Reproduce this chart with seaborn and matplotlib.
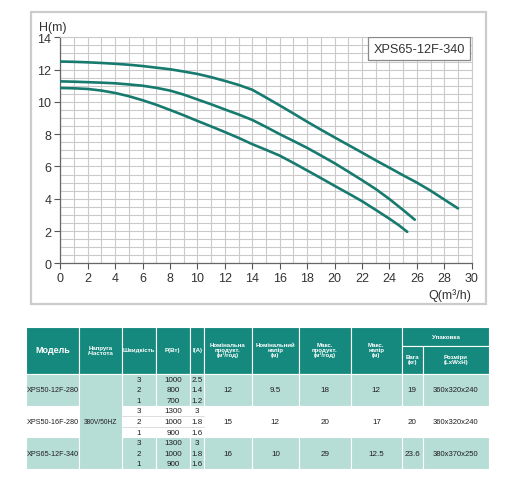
import numpy as np
import pandas as pd
import matplotlib
matplotlib.use("Agg")
import matplotlib.pyplot as plt
import matplotlib.patches as mpatches
import seaborn as sns

# ---------------- data ----------------
q_speed3 = [0, 1, 2, 3, 4, 5, 6, 7, 8, 9, 10, 11, 12, 13, 14, 15, 16, 17, 18, 19, 20, 21, 22, 23, 24, 25, 26, 27, 28, 29]
h_speed3 = [12.5, 12.48, 12.45, 12.41, 12.36, 12.3, 12.22, 12.12, 12.02, 11.88, 11.73, 11.53, 11.3, 11.05, 10.75,
            10.27, 9.78, 9.28, 8.77, 8.28, 7.8, 7.33, 6.86, 6.38, 5.92, 5.45, 5.0, 4.5, 3.95, 3.4]
q_speed2 = [0, 1, 2, 3, 4, 5, 6, 7, 8, 9, 10, 11, 12, 13, 14, 15, 16, 17, 18, 19, 20, 21, 22, 23, 24, 24.5, 25, 25.85]
h_speed2 = [11.27, 11.25, 11.22, 11.19, 11.15, 11.08, 11.0, 10.87, 10.7, 10.45, 10.15, 9.85, 9.53, 9.22, 8.88,
            8.45, 8.0, 7.58, 7.15, 6.68, 6.2, 5.68, 5.15, 4.6, 3.98, 3.64, 3.3, 2.7]
q_speed1 = [0, 1, 2, 3, 4, 5, 6, 7, 8, 9, 10, 11, 12, 13, 14, 15, 16, 17, 18, 19, 20, 21, 22, 23, 24, 24.7, 25.3]
h_speed1 = [10.86, 10.84, 10.8, 10.7, 10.55, 10.35, 10.1, 9.82, 9.5, 9.17, 8.82, 8.48, 8.13, 7.77, 7.38,
            7.03, 6.67, 6.22, 5.75, 5.28, 4.8, 4.33, 3.85, 3.31, 2.76, 2.35, 1.95]
curve_label = "XPS65-12F-340"

x_ticks = list(range(0, 31, 2))
y_ticks = list(range(0, 15, 2))

# table
header_cols = ["Модель", "Напруга\n/Частота", "Швидкість", "P(Вт)", "I(A)",
               "Номінальна\nпродукт.\n(м³/год)", "Номінальний\nнапір\n(м)",
               "Макс.\nпродукт.\n(м³/год)", "Макс.\nнапір\n(м)"]
header_pack = "Упаковка"
header_pack_sub = ["Вага\n(кг)", "Розміри\n(LxWxH)"]
models = ["XPS50-12F-280", "XPS50-16F-280", "XPS65-12F-340"]
voltage = "380V/50HZ"
speeds = ["3", "2", "1"]
power = [["1000", "800", "700"], ["1300", "1000", "900"], ["1300", "1000", "900"]]
current = [["2.5", "1.4", "1.2"], ["3", "1.8", "1.6"], ["3", "1.8", "1.6"]]
nom_flow = ["12", "15", "16"]
nom_head = ["9.5", "12", "10"]
max_flow = ["18", "20", "29"]
max_head = ["12", "17", "12.5"]
weight = ["19", "20", "23.6"]
dims = ["360x320x240", "360x320x240", "380x370x250"]

# ---------------- figure ----------------
sns.set_theme(style="white")
plt.rcParams['font.family'] = ['Liberation Sans', 'DejaVu Sans']

W, H = 512, 485
fig = plt.figure(figsize=(W / 100, H / 100), dpi=100)
fig.patch.set_facecolor("white")

def fx(px):
    return px / W

def fy(py):
    return 1 - py / H

# outer frame around the chart
fig.patches.append(mpatches.Rectangle((fx(31), fy(305)), fx(486) - fx(31), fy(13) - fy(305),
                                      transform=fig.transFigure, fill=False,
                                      edgecolor="#cccccc", lw=1.6))

ax = fig.add_axes([fx(60.3), fy(264.3), fx(471.7) - fx(60.3), fy(38.3) - fy(264.3)])

df = pd.concat([
    pd.DataFrame({"Q": q_speed3, "H": h_speed3, "speed": "3"}),
    pd.DataFrame({"Q": q_speed2, "H": h_speed2, "speed": "2"}),
    pd.DataFrame({"Q": q_speed1, "H": h_speed1, "speed": "1"}),
], ignore_index=True)

line_color = "#177a6e"
sns.lineplot(data=df, x="Q", y="H", hue="speed", palette=[line_color] * 3,
             legend=False, sort=False, lw=1.9, ax=ax, zorder=5)
for ln in ax.lines:
    ln.set_solid_joinstyle("round")
    ln.set_solid_capstyle("round")

ax.set_xlim(0, 30)
ax.set_ylim(0, 14)
ax.set_xticks(x_ticks)
ax.set_yticks(y_ticks)
ax.set_xticks(np.arange(0, 31, 1), minor=True)
ax.set_yticks(np.arange(0, 14.01, 0.5), minor=True)
ax.grid(True, which="both", color="#cacaca", lw=0.8)
ax.set_axisbelow(True)
ax.tick_params(which="major", direction="out", length=4, width=0.8, color="#555555",
               labelsize=9, labelcolor="#333333", pad=2.5, left=True, bottom=True)
ax.tick_params(which="minor", length=0, left=False, bottom=False)
ax.set_xlabel("")
ax.set_ylabel("")
for s in ["left", "bottom"]:
    ax.spines[s].set_color("#666666")
    ax.spines[s].set_linewidth(0.9)
for s in ["top", "right"]:
    ax.spines[s].set_color("#cacaca")
    ax.spines[s].set_linewidth(0.8)

# label box at top right, inside the axes
ax.add_patch(mpatches.Rectangle((0.7487, 0.8996), 0.2472, 0.1004, transform=ax.transAxes,
                                fc="white", ec="#888888", lw=0.9, zorder=10))
ax.text(0.8723, 0.9498, curve_label, transform=ax.transAxes, ha="center", va="center",
        fontsize=9.2, color="#333333", zorder=11)

fig.text(fx(39), fy(28), "H(m)", ha="left", va="center", fontsize=9, color="#333333")
fig.text(fx(471), fy(296), "Q(m³/h)", ha="right", va="center", fontsize=9, color="#333333")

# ---------------- table ----------------
tax = fig.add_axes([0, 0, 1, 1])
tax.set_xlim(0, W)
tax.set_ylim(H, 0)
tax.axis("off")

teal = "#16897e"
light = "#b6ddd6"
white = "#ffffff"
cx = [26, 79.3, 122.3, 155.7, 190, 204.3, 251.5, 299.3, 350.7, 402, 422.7, 489]
ry = [328.3, 375, 406.7, 438.3, 470]
hsplit = 347.3

def cell(x0, x1, y0, y1, fc, ec=white, lw=0.8):
    tax.add_patch(mpatches.Rectangle((x0, y0), x1 - x0, y1 - y0, fc=fc, ec=ec, lw=lw))

# header
for i in range(9):
    cell(cx[i], cx[i + 1], ry[0], ry[1], teal)
    fs = 6.4 if i == 0 else 4.4
    tax.text((cx[i] + cx[i + 1]) / 2, (ry[0] + ry[1]) / 2 - 1, header_cols[i], ha="center", va="center",
             fontsize=fs, color="white", fontweight="bold", linespacing=0.95)
cell(cx[9], cx[11], ry[0], hsplit, teal)
tax.text((cx[9] + cx[11]) / 2, (ry[0] + hsplit) / 2, header_pack, ha="center", va="center",
         fontsize=4.5, color="white", fontweight="bold")
for j in range(2):
    cell(cx[9 + j], cx[10 + j], hsplit, ry[1], teal)
    tax.text((cx[9 + j] + cx[10 + j]) / 2, (hsplit + ry[1]) / 2 - 1, header_pack_sub[j], ha="center",
             va="center", fontsize=4.4, color="white", fontweight="bold", linespacing=0.95)

# body rows
row_bg = [light, white, light]
tc = "#1e1e1e"
num_fs = 5.8
for r in range(3):
    y0, y1 = ry[r + 1], ry[r + 2]
    ym = (y0 + y1) / 2
    bg = row_bg[r]
    for i in range(len(cx) - 1):
        if i == 1:
            continue
        cell(cx[i], cx[i + 1], y0, y1, bg)
    tax.text((cx[0] + cx[1]) / 2, ym, models[r], ha="center", va="center", fontsize=5.2, color=tc)
    hgt = (y1 - y0) / 3
    for k in range(3):
        ys = y0 + hgt * (k + 0.5)
        if r == 1 and k > 0:
            tax.plot([cx[2], cx[5]], [y0 + hgt * k, y0 + hgt * k], color="#d8d8d8", lw=0.6)
        tax.text((cx[2] + cx[3]) / 2, ys, speeds[k], ha="center", va="center", fontsize=num_fs, color=tc)
        tax.text((cx[3] + cx[4]) / 2, ys, power[r][k], ha="center", va="center", fontsize=num_fs, color=tc)
        tax.text((cx[4] + cx[5]) / 2, ys, current[r][k], ha="center", va="center", fontsize=num_fs, color=tc)
    vals = [nom_flow[r], nom_head[r], max_flow[r], max_head[r], weight[r], dims[r]]
    for j, v in enumerate(vals):
        tax.text((cx[5 + j] + cx[6 + j]) / 2, ym, v, ha="center", va="center",
                 fontsize=5.5 if j == 5 else num_fs, color=tc)

# merged voltage cell
cell(cx[1], cx[2], ry[1], ry[4], light)
tax.text((cx[1] + cx[2]) / 2, (ry[1] + ry[4]) / 2, voltage, ha="center", va="center",
         fontsize=4.8, color=tc)

fig.savefig("out.png", dpi=100, facecolor="white")
